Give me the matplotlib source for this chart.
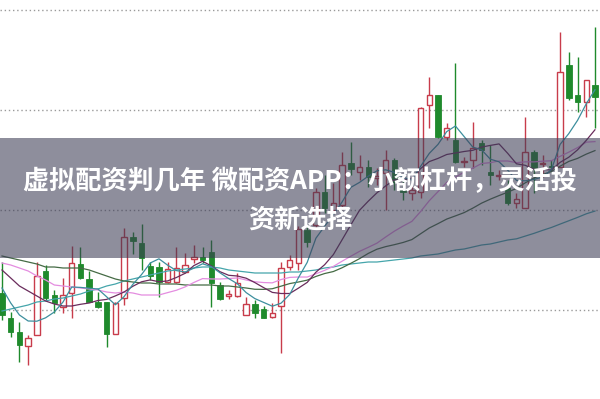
import matplotlib
matplotlib.use("Agg")
import matplotlib.pyplot as plt
from matplotlib.patches import Rectangle
import numpy as np

# ---- data (prices) ----
opens = [20.68, 19.68, 19.12, 18.56, 19.00, 21.56, 20.60, 20.12, 20.68, 21.84,
         21.24, 20.32, 20.32, 19.04, 20.48, 22.92, 22.68, 21.76, 21.72, 21.12,
         21.12, 21.52, 22.04, 22.12, 22.32, 21.00, 20.56, 20.56, 19.80, 20.24,
         20.04, 19.72, 20.16, 21.72, 21.88, 23.20, 23.40, 24.72, 24.00, 24.20,
         25.88, 25.52, 25.72, 25.28, 25.48, 26.00, 24.80, 24.68, 24.72, 28.20,
         28.60, 26.92, 26.80, 25.92, 26.00, 26.68, 25.52, 25.36, 24.88, 24.28,
         24.08, 26.32, 25.84, 25.76, 25.72, 29.80, 28.60, 28.32, 29.00]
highs = [21.92, 19.92, 19.52, 19.00, 21.92, 21.80, 20.80, 21.28, 22.56, 22.52,
         21.56, 20.72, 20.32, 20.32, 23.28, 23.12, 23.44, 21.92, 21.92, 21.92,
         22.52, 22.28, 22.60, 22.52, 22.80, 21.12, 20.80, 21.48, 20.52, 20.40,
         20.16, 20.28, 21.92, 22.20, 23.36, 23.40, 24.88, 25.40, 25.08, 26.32,
         26.72, 26.20, 26.00, 25.68, 26.40, 26.08, 25.20, 24.96, 28.12, 29.32,
         28.60, 27.48, 29.88, 26.12, 27.52, 26.80, 26.60, 25.60, 25.20, 24.68,
         27.72, 26.40, 26.20, 26.00, 31.12, 30.32, 30.12, 29.20, 31.32]
lows = [19.60, 18.92, 17.92, 17.80, 19.00, 20.40, 19.88, 19.88, 19.68, 21.24,
        20.32, 20.08, 18.52, 19.04, 20.20, 22.24, 21.60, 21.20, 20.52, 21.08,
        21.08, 21.48, 21.88, 21.88, 20.12, 20.40, 20.44, 20.52, 19.80, 19.68,
        19.68, 19.68, 18.28, 21.60, 21.60, 22.52, 23.28, 23.88, 23.80, 24.12,
        25.40, 25.20, 24.92, 25.00, 24.00, 24.80, 24.40, 24.40, 24.48, 27.28,
        26.88, 26.80, 25.88, 25.72, 25.68, 25.80, 25.00, 25.20, 24.20, 24.08,
        24.08, 24.68, 25.32, 25.52, 25.72, 28.40, 27.92, 27.72, 27.28]
closes = [19.80, 19.12, 18.60, 18.88, 21.36, 20.48, 20.28, 20.60, 21.88, 21.28,
          20.32, 20.12, 19.04, 20.28, 22.92, 22.76, 22.08, 21.36, 21.12, 21.64,
          21.68, 21.80, 22.12, 22.00, 21.08, 20.44, 20.64, 21.08, 20.24, 19.88,
          19.68, 19.88, 21.68, 22.00, 23.24, 22.72, 24.72, 24.08, 24.28, 25.80,
          25.64, 25.72, 25.32, 25.36, 26.00, 25.12, 24.72, 24.80, 28.08, 28.60,
          26.92, 27.28, 25.92, 25.96, 26.48, 26.40, 25.40, 25.40, 24.28, 24.44,
          26.32, 25.68, 25.88, 25.72, 29.52, 28.48, 28.32, 29.20, 28.52]

# moving-average values before enough candles are on screen
ma5_head = [20.88, 20.28, 19.80, 19.56]
ma10_head = [21.60, 21.28, 20.96, 20.76, 20.56, 20.36, 20.24, 20.16, 20.16]
ma20_head = [21.88, 21.80, 21.68, 21.56, 21.36, 21.20, 21.00, 20.96, 20.92, 20.88,
             20.84, 20.80, 20.72, 20.68, 20.72, 20.68, 20.60, 20.60, 20.60]
ma30_head = [22.16, 22.08, 22.00, 21.92, 21.84, 21.72, 21.72, 21.68, 21.68, 21.68,
             21.60, 21.48, 21.36, 21.24, 21.16, 21.12, 21.08, 21.08, 21.04, 21.04,
             21.04, 21.00, 21.00, 21.00, 21.00, 20.96, 20.96, 20.92, 20.88]
ma60_head = [19.96, 20.04, 20.12, 20.20, 20.32, 20.36, 20.44, 20.48, 20.56, 20.64,
             20.76, 20.84, 20.96, 21.04, 21.16, 21.24, 21.32, 21.40, 21.48, 21.56,
             21.60, 21.64, 21.68, 21.72, 21.72, 21.68, 21.60, 21.56, 21.52, 21.48,
             21.48, 21.48, 21.48, 21.52, 21.52, 21.56, 21.60, 21.68, 21.72, 21.80,
             21.84, 21.88, 21.92, 21.92, 21.96, 22.00, 22.04, 22.08, 22.16, 22.20,
             22.24, 22.32, 22.40, 22.44, 22.52, 22.60, 22.64, 22.72, 22.80]

grid_levels = [20, 24, 28, 32]

title_line1 = "虚拟配资判几年 微配资APP：小额杠杆，灵活投"
title_line2 = "资新选择"

# ---- drawing ----
RED = "#c83c4b"
GREEN = "#1f8a2c"

plt.rcParams['font.family'] = ['Noto Sans CJK SC', 'DejaVu Sans']

fig = plt.figure(figsize=(6.0, 3.99), dpi=100)
fig.patch.set_facecolor("white")
ax = fig.add_axes([0, 0, 1, 1])
ax.set_facecolor("white")
ax.axis("off")

n = len(closes)
xs = np.arange(n)

for g in grid_levels:
    ax.axhline(g, color="#9a9a9a", lw=1.0, ls=(0, (1, 2)), zorder=1)

width = 0.62
for i in range(n):
    o, h, l, c = opens[i], highs[i], lows[i], closes[i]
    up = c >= o
    col = RED if up else GREEN
    ax.vlines(xs[i], l, h, color=col, lw=1.0, zorder=2)
    bottom = min(o, c)
    height = max(abs(c - o), 0.04)
    if up:
        ax.bar(xs[i], height, width, bottom, facecolor="white",
               edgecolor=col, linewidth=1.0, zorder=3)
    else:
        ax.bar(xs[i], height, width, bottom, facecolor=col,
               edgecolor=col, linewidth=0.6, zorder=3)


def moving_average(period, head):
    vals = list(head)
    for i in range(period - 1, n):
        vals.append(float(np.mean(closes[i - period + 1:i + 1])))
    return vals


ma_specs = [
    (60, ma60_head, "#45a5ab"),
    (30, ma30_head, "#456b45"),
    (20, ma20_head, "#e48de0"),
    (10, ma10_head, "#6a2c5c"),
    (5, ma5_head, "#3d8f9e"),
]
for period, head, col in ma_specs:
    ax.plot(xs, moving_average(period, head), color=col, lw=0.9, zorder=4)

ax.set_xlim(-2 / 8.72, 598 / 8.72)
ax.set_ylim(32.4 - 399 / 25, 32.4)

# banner
fig.patches.append(Rectangle((0, (399 - 258) / 399), 1, 120 / 399,
                             transform=fig.transFigure, facecolor="#3c3c55",
                             alpha=0.58, edgecolor="none", zorder=10))
fig.text(0.5, 1 - 182 / 399, title_line1, ha="center", va="center",
         fontsize=18.8, fontweight="bold", color="white", zorder=11)
fig.text(0.5, 1 - 220 / 399, title_line2, ha="center", va="center",
         fontsize=18.8, fontweight="bold", color="white", zorder=11)

fig.savefig("out.png", dpi=100)
